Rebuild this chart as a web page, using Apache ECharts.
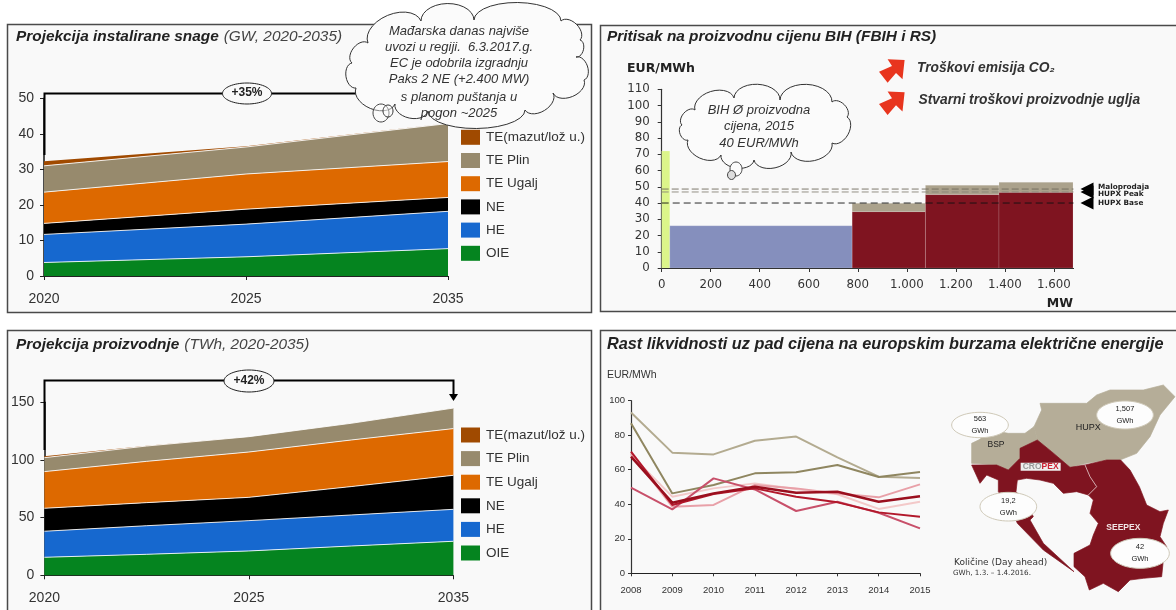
<!DOCTYPE html>
<html><head><meta charset="utf-8">
<style>html,body{margin:0;padding:0;background:#fff}#c{width:1176px;height:610px;filter:blur(0.45px)}</style>
<script src="https://cdn.jsdelivr.net/npm/echarts@6/dist/echarts.min.js"></script>
</head><body><div id="c"></div>
<script>
// ---- data ----
const stackNames = ['OIE','HE','NE','TE Ugalj','TE Plin','TE(mazut/lož u.)'];
const stackColors = ['#05841f','#1668cf','#000000','#dd6900','#978a6d','#a04a00'];
const legendOrder = ['TE(mazut/lož u.)','TE Plin','TE Ugalj','NE','HE','OIE'];

const capacityYears = ['2020','2025','2035'];
const capOIE = [3.8,5.4,7.7];
const capHE = [7.9,9.2,10.5];
const capNE = [3.1,4.2,3.9];
const capUgalj = [8.8,9.9,10.1];
const capPlin = [7.4,7.6,10.7];
const capMazut = [1.3,0.2,0.1];

const productionYears = ['2020','','2025','','2035'];
const proOIE = [15.6,18.2,21.1,25.4,29.5];
const proHE = [22.6,24.8,26.3,26.9,27.7];
const proNE = [19.9,20,20.2,24.6,29.5];
const proUgalj = [31.8,35.8,39.3,40.4,40.5];
const proPlin = [12.1,13.3,13.3,14.5,17.8];
const proMazut = [1.2,0.3,0,0,0];

const blockStart = [0,33,777,777,1076,1076,1376,1376];
const blockEnd = [33,777,1076,1076,1376,1376,1678,1678];
const blockBase = [0,0,0,34.7,0,45.2,0,46.6];
const blockTop = [72,26,34.7,39.8,45.2,51,46.6,52.8];
const blockColors = ['#dcf58a','#858fbd','#7f1420','#aba28c','#7f1420','#aba28c','#7f1420','#aba28c'];
const priceMax = 1680;
const priceRetail = 48.6, pricePeak = 46.8, priceBase = 40;
const priceAxisTop = 110;

const liqYears = ['2008','2009','2010','2011','2012','2013','2014','2015'];
const liqTanLight = [93.2,69.9,68.9,76.8,79.2,67.2,56,55.2];
const liqTanDark = [86.9,46.3,51.2,57.9,58.5,62.7,55.8,58.7];
const liqPale = [68.5,44.4,49.2,52.1,48.8,45.8,37.3,41.5];
const liqSalmon = [69.5,38.6,39.6,51.2,49.2,46.3,44,51.5];
const liqRose = [49.6,37,55,48.6,36.1,41.5,35.1,26];
const liqCrimson = [70.5,39.6,45.9,49.2,44.4,41.1,35.3,32.8];
const liqDark = [67.6,40.9,46.3,50.2,46.7,47.3,41.5,44.6];

// ---- helpers ----
const SANS = '"Liberation Sans",Arial,sans-serif';
const TXT = '#333';
const series = [];
function stack(gridIdx, vals, name){
  vals.forEach((v,i)=>series.push({
    type:'line', name:stackNames[i], stack:name, xAxisIndex:gridIdx, yAxisIndex:gridIdx,
    data:v, symbol:'none', silent:true, color:stackColors[i], itemStyle:{color:stackColors[i]},
    areaStyle:{color:stackColors[i],opacity:1},
    lineStyle:{color:i===5?stackColors[i]:'#ffffff',width:i===5?0:1,opacity:.85},
    animation:false
  }));
}
stack(0,[capOIE,capHE,capNE,capUgalj,capPlin,capMazut],'cap');
stack(2,[proOIE,proHE,proNE,proUgalj,proPlin,proMazut],'pro');

series.push({
  type:'custom', xAxisIndex:1, yAxisIndex:1, silent:true, animation:false,
  data:blockStart.map((s,i)=>[s,blockEnd[i],blockBase[i],blockTop[i]]),
  encode:{x:[0,1],y:[2,3]},
  renderItem(p,api){
    const a=api.coord([api.value(0),api.value(3)]), b=api.coord([api.value(1),api.value(2)]);
    return {type:'rect',shape:{x:a[0],y:a[1],width:b[0]-a[0],height:b[1]-a[1]},
      style:{fill:blockColors[p.dataIndex],stroke:'rgba(255,255,255,.25)',lineWidth:.6}};
  }
});
[[priceRetail,'#6f6a5c',[7,3]],[pricePeak,'#8a8578',[7,3]],[priceBase,'#111',[7,4]]].forEach(([v,c,d])=>series.push({
  type:'line', xAxisIndex:1, yAxisIndex:1, data:[[0,v],[priceMax,v]], symbol:'none', silent:true, animation:false, z:5,
  lineStyle:{color:c,width:.9,type:d}
}));
series.push({
  type:'custom', xAxisIndex:1, yAxisIndex:1, silent:true, animation:false, clip:false, z:6,
  data:[[priceMax,priceRetail],[priceMax,pricePeak],[priceMax,priceBase]], encode:{x:0,y:1},
  renderItem(p,api){
    const c=api.coord([api.value(0),api.value(1)]);
    return {type:'polygon',shape:{points:[[c[0]+7,c[1]],[c[0]+20,c[1]-6.5],[c[0]+20,c[1]+6.5]]},style:{fill:'#000'}};
  }
});
[[liqTanLight,'#b3ab90',2],[liqTanDark,'#8f8660',2],[liqPale,'#f3c9c9',2],[liqSalmon,'#e8a0a8',2],[liqRose,'#c8506a',2],[liqCrimson,'#b2182b',2],[liqDark,'#9a0f1e',2.5]].forEach(([d,c,w])=>series.push({
  type:'line', xAxisIndex:3, yAxisIndex:3, data:d, symbol:'none', silent:true, animation:false,
  lineStyle:{color:c,width:w}
}));

// graphic annotations
function cloudPoints(p){
  const out=[];
  for(let i=0;i<p.length;i++){
    const a=p[i],b=p[(i+1)%p.length],dx=b[0]-a[0],dy=b[1]-a[1],d=Math.hypot(dx,dy);
    const mx=(a[0]+b[0])/2,my=(a[1]+b[1])/2,s=Math.min(d*.32,18);
    for(let k=0;k<14;k++){
      const t=Math.PI*k/14;
      out.push([mx-dx/2*Math.cos(t)+dy/d*s*Math.sin(t),my-dy/2*Math.cos(t)-dx/d*s*Math.sin(t)]);
    }
  }
  return out;
}
const g=[];
function panel(x,y,w,h){g.push({type:'rect',z:-10,silent:true,shape:{x,y,width:w,height:h},style:{fill:'#f9f9f9',stroke:'#4a4a4a',lineWidth:1.5}});}
panel(7.5,24.5,584,288); panel(600.5,25.5,590,286); panel(7.5,330.5,584,300); panel(600.5,330.5,590,300);
function txt(text,x,y,font,fill,align,z){g.push({type:'text',z:z||50,silent:true,style:{text,x,y,font,fill:fill||TXT,textAlign:align||'center',textVerticalAlign:'middle'}});}
function line(pts,w,z){g.push({type:'polyline',z:z||40,silent:true,shape:{points:pts},style:{stroke:'#000',lineWidth:w,fill:null}});}
function ell(cx,cy,rx,ry,fill,stroke,z,lw){g.push({type:'ellipse',z:z||45,silent:true,shape:{cx,cy,rx,ry},style:{fill,stroke,lineWidth:lw||1}});}
// brackets
line([[44.5,155],[44.5,93.5],[365,93.5]],2);
ell(247,93.5,24.5,10.5,'#f9f9f9','#222');
txt('+35%',247,93,'bold 12px '+SANS,'#222');
line([[44.5,450],[44.5,380.5],[453.5,380.5],[453.5,396]],2);
g.push({type:'polygon',z:40,silent:true,shape:{points:[[449,394],[458,394],[453.5,401]]},style:{fill:'#000'}});
ell(249,381,25,11,'#f9f9f9','#222');
txt('+42%',249,381,'bold 12px '+SANS,'#222');
// cloud 1
g.push({type:'polygon',z:60,silent:true,shape:{points:cloudPoints([[368,43],[421,21],[474,20],[561,21],[580,40],[576,57],[584,80],[553,93],[525,110],[428,111],[395,104],[356,88],[352,63]])},style:{fill:'#fbfbfb',stroke:'#333',lineWidth:1}});
ell(381,113,8,9,'rgba(255,255,255,.4)','#444',61);
ell(388,111,5,6,'rgba(255,255,255,.4)','#333',61);
['Mađarska danas najviše','uvozi u regiji.  6.3.2017.g.','EC je odobrila izgradnju','Paks 2 NE (+2.400 MW)','s planom puštanja u','pogon ~2025'].forEach((t,i)=>txt(t,459,[31,47,63,79.5,97,113][i],'italic 13px '+SANS,'#333','center',62));
// cloud 2
g.push({type:'polygon',z:60,silent:true,shape:{points:cloudPoints([[695,110],[734,98],[780,100],[832,102],[847,117],[832,143],[791,152],[754,160],[721,155],[688,140],[682,125]])},style:{fill:'#fbfbfb',stroke:'#333',lineWidth:1}});
ell(736,169,6,7,'#fbfbfb','#444',61);
ell(731.5,175,4,4.5,'#ddd','#444',61);
['BIH Ø proizvodna','cijena, 2015','40 EUR/MWh'].forEach((t,i)=>txt(t,759,[110.5,126.5,143][i],'italic 13px '+SANS,'#333','center',62));
// price panel texts + arrows
txt('EUR/MWh',627,69,'bold 12.5px "DejaVu Sans"','#222','left');
txt('MW',1073,304,'bold 12.5px "DejaVu Sans"','#222','right');
[0,32.3].forEach(o=>g.push({type:'polygon',z:40,silent:true,shape:{points:[[887.6,59.3+o],[904.6,60+o],[902.5,79.3+o],[896,73+o],[887.6,82.7+o],[879,71.7+o],[892,66+o]]},style:{fill:'#e8351e'}}));
txt('Troškovi emisija CO₂',917,68,'italic bold 13.8px '+SANS,'#333','left');
txt('Stvarni troškovi proizvodnje uglja',918.5,100,'italic bold 13.8px '+SANS,'#333','left');
txt('Maloprodaja',1098,187,'bold 7.3px "DejaVu Sans"','#222','left');
txt('HUPX Peak',1098,194,'bold 7.3px "DejaVu Sans"','#222','left');
txt('HUPX Base',1098,203,'bold 7.3px "DejaVu Sans"','#222','left');
// liquidity panel
txt('EUR/MWh',607,375,'10.5px '+SANS,'#333','left');
// map
const mz=p=>p.map(([x,y])=>[930+x/3,380+y/3]);
const RED='#7f1420',TAN='#b5ad98';
function poly(p,fill,stroke){g.push({type:'polygon',z:20,silent:true,shape:{points:mz(p)},style:{fill,stroke:stroke||fill,lineWidth:.7}});}
poly([[125,190],[150,178],[175,150],[235,160],[285,160],[312,140],[322,180],[270,205],[270,235],[235,270],[200,255],[125,250],[125,225]],TAN);
poly([[312,140],[335,90],[330,70],[400,70],[470,70],[500,45],[540,30],[640,30],[700,15],[735,50],[690,105],[660,170],[620,220],[570,240],[530,240],[470,250],[420,262],[365,215],[322,180]],TAN);
poly([[125,255],[200,255],[235,270],[270,235],[270,205],[322,180],[365,215],[420,262],[465,255],[480,290],[500,320],[475,345],[440,335],[400,340],[370,310],[330,300],[290,295],[262,300],[258,335],[290,370],[310,410],[300,420],[340,490],[432,575],[340,510],[262,430],[250,400],[205,335],[205,300],[170,285],[150,310]],RED);
poly([[465,255],[530,240],[572,240],[600,270],[628,320],[640,350],[650,375],[690,395],[715,390],[700,430],[690,470],[710,500],[700,540],[695,590],[640,595],[600,600],[565,635],[520,610],[478,630],[465,590],[432,560],[432,520],[480,495],[490,465],[505,430],[480,400],[490,360],[475,345],[500,320],[480,290]],RED);
g.push({type:'polyline',z:21,silent:true,shape:{points:mz([[465,255],[480,290],[500,320],[475,345]])},style:{stroke:'#e6cfcf',lineWidth:.8,fill:null}});
function bubble(x,y,rx,ry,a,b){const c=mz([[x,y]])[0];ell(c[0],c[1],rx/3,ry/3,'#fdfdfd','#cfc9b8',25);txt(a,c[0],c[1]-6,'7.5px '+SANS,'#222','center',26);txt(b,c[0],c[1]+6,'7.5px '+SANS,'#222','center',26);}
bubble(150,135,85,38,'563','GWh');
bubble(585,105,85,42,'1,507','GWh');
bubble(235,380,85,43,'19,2','GWh');
bubble(630,520,88,45,'42','GWh');
const mt=(t,x,y,f,c)=>{const p=mz([[x,y]])[0];txt(t,p[0],p[1],f,c,'center',27);};
mt('BSP',198,193,'8.5px '+SANS,'#222');
mt('HUPX',475,142,'9px '+SANS,'#222');
mt('SEEPEX',580,443,'bold 8.5px '+SANS,'#f2e6e6');
const cb=mz([[272,248]])[0];
g.push({type:'rect',z:26,silent:true,shape:{x:cb[0],y:cb[1],width:40,height:8},style:{fill:'#eeeeee'}});
g.push({type:'text',z:27,silent:true,style:{x:cb[0]+20,y:cb[1]+4,textAlign:'center',textVerticalAlign:'middle',text:'{a|CRO}{b|PEX}',rich:{a:{fill:'#999',font:'bold 8.5px '+SANS},b:{fill:'#cc2233',font:'bold 8.5px '+SANS}}}});
txt('Količine (Day ahead)',954,562.5,'9px "DejaVu Sans"','#333','left');
txt('GWh, 1.3. – 1.4.2016.',953,573.5,'7.2px "DejaVu Sans"','#333','left');

const axisLine={lineStyle:{color:'#222',width:1.2}};
const title=(text,left,top,rich)=>({text,left,top,padding:0,textStyle:{rich}});
const style=(w,sz,c)=>({fontFamily:SANS,fontWeight:w,fontStyle:'italic',fontSize:sz,color:c});
const bi=style('bold',15.4,'#222');
const it=style('normal',15.4,'#444');
const legend=(top,gap)=>({show:true,orient:'vertical',left:461,top,padding:0,itemWidth:19,itemHeight:15,itemGap:gap,icon:'rect',selectedMode:false,
  data:legendOrder,textStyle:{fontFamily:SANS,fontSize:13.5,color:TXT,padding:[0,0,0,1]},itemStyle:{borderWidth:0}});
const lab=(sz,fam,m)=>({fontFamily:fam,fontSize:sz,color:TXT,margin:m});

echarts.init(document.getElementById('c'),null,{renderer:'canvas'}).setOption({
  animation:false,
  backgroundColor:'#ffffff',
  title:[
    title('{b|Projekcija instalirane snage} {i|(GW, 2020-2035)}',16,28,{b:bi,i:it}),
    title('{b|Projekcija proizvodnje} {i|(TWh, 2020-2035)}',16,336,{b:bi,i:it}),
    title('{b|Pritisak na proizvodnu cijenu BIH (FBIH i RS)}',607,29,{b:style('bold',15.4,'#222')}),
    title('{b|Rast likvidnosti uz pad cijena na europskim burzama električne energije}',607,337,{b:style('bold',16.3,'#222')}),
  ],
  legend:[legend(129.8,8.2),legend(427.5,8.6)],
  grid:[
    {left:44,top:98.3,width:404,height:177.7},
    {left:661.7,top:89.3,width:411.8,height:178.7},
    {left:44.4,top:402.3,width:409,height:173},
    {left:631,top:400.7,width:289,height:172.6},
  ],
  xAxis:[
    {gridIndex:0,type:'category',data:capacityYears,boundaryGap:false,axisLine,axisTick:{length:4,lineStyle:{color:'#222'}},axisLabel:lab(14,SANS,16)},
    {gridIndex:1,type:'value',min:0,max:priceMax,interval:200,splitLine:{show:false},axisLine,axisTick:{length:4,lineStyle:{color:'#333'}},
      axisLabel:{...lab(11.8,'"DejaVu Sans"',11),showMaxLabel:false,formatter:v=>v>=1000?Math.floor(v/1000)+'.'+String(v%1000).padStart(3,'0'):String(v)}},
    {gridIndex:2,type:'category',data:productionYears,boundaryGap:false,axisLine,axisTick:{length:4,interval:1,lineStyle:{color:'#222'}},axisLabel:{...lab(14,SANS,16),interval:1}},
    {gridIndex:3,type:'category',data:liqYears,boundaryGap:false,axisLine,axisTick:{length:3,lineStyle:{color:'#333'}},axisLabel:lab(9.5,SANS,12.5)},
  ],
  yAxis:[
    {gridIndex:0,type:'value',min:0,max:50,interval:10,splitLine:{show:false},axisLine:{show:true,lineStyle:{color:'#111',width:1.5}},axisTick:{show:true,length:4,lineStyle:{color:'#222'}},axisLabel:lab(14,SANS,10)},
    {gridIndex:1,type:'value',min:0,max:priceAxisTop,interval:10,splitLine:{show:false},axisLine:{show:true,lineStyle:{color:'#333',width:1.2}},axisTick:{show:true,length:4,lineStyle:{color:'#333'}},axisLabel:lab(11.8,'"DejaVu Sans"',12)},
    {gridIndex:2,type:'value',min:0,max:150,interval:50,splitLine:{show:false},axisLine:{show:true,lineStyle:{color:'#111',width:1.5}},axisTick:{show:true,length:4,lineStyle:{color:'#222'}},axisLabel:lab(14,SANS,10)},
    {gridIndex:3,type:'value',min:0,max:100,interval:20,splitLine:{show:false},axisLine:{show:true,lineStyle:{color:'#333',width:1.2}},axisTick:{show:true,length:3,lineStyle:{color:'#333'}},axisLabel:lab(9.5,SANS,6)},
  ],
  series,
  graphic:{elements:g}
});
</script></body></html>
